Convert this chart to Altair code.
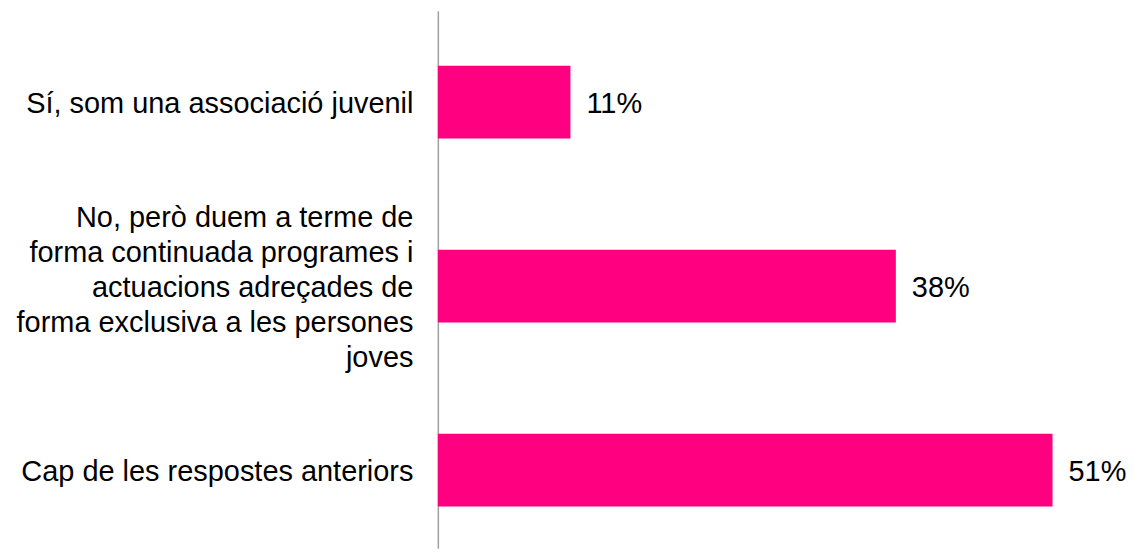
import altair as alt
import pandas as pd

categories = [
    "Sí, som una associació juvenil",
    "No, però duem a terme de|forma continuada programes i|actuacions adreçades de|forma exclusiva a les persones|joves",
    "Cap de les respostes anteriors",
]
values = [11, 38, 51]
value_labels = ["11%", "38%", "51%"]

df = pd.DataFrame({"cat": categories, "val": values, "lab": value_labels})

FONT = "Liberation Sans"
FS = 29

y_enc = alt.Y(
    "cat:N",
    sort=categories,
    scale=alt.Scale(paddingInner=0.604, paddingOuter=0.2627, align=0.568),
    axis=alt.Axis(
        title=None,
        ticks=False,
        labelExpr="split(datum.label, '|')",
        labelFont=FONT,
        labelFontSize=FS,
        labelColor="#000000",
        labelLineHeight=35,
        labelPadding=25,
        labelLimit=0,
        labelOffset={"condition": {"test": "indexof(datum.value, '|') >= 0", "value": -68}, "value": 2},
        domainColor="#A0A0A0",
        domainWidth=1.5,
        grid=False,
    ),
)
x_enc = alt.X(
    "val:Q",
    scale=alt.Scale(domain=[0, 56.6], nice=False, zero=True),
    axis=None,
)

bars = alt.Chart(df).mark_bar(color="#FF0080").encode(x=x_enc, y=y_enc)
texts = alt.Chart(df).mark_text(
    align="left", baseline="middle", dx=16, dy=2, font=FONT, fontSize=FS, color="#000000"
).encode(x=x_enc, y=y_enc, text="lab:N")

chart = (
    alt.layer(bars, texts)
    .properties(width=684, height=539, padding={"left": 7, "top": 2, "right": 0, "bottom": 0})
    .configure_view(stroke=None)
)

chart.save("out.html", embed_options={"renderer": "svg", "actions": False})
